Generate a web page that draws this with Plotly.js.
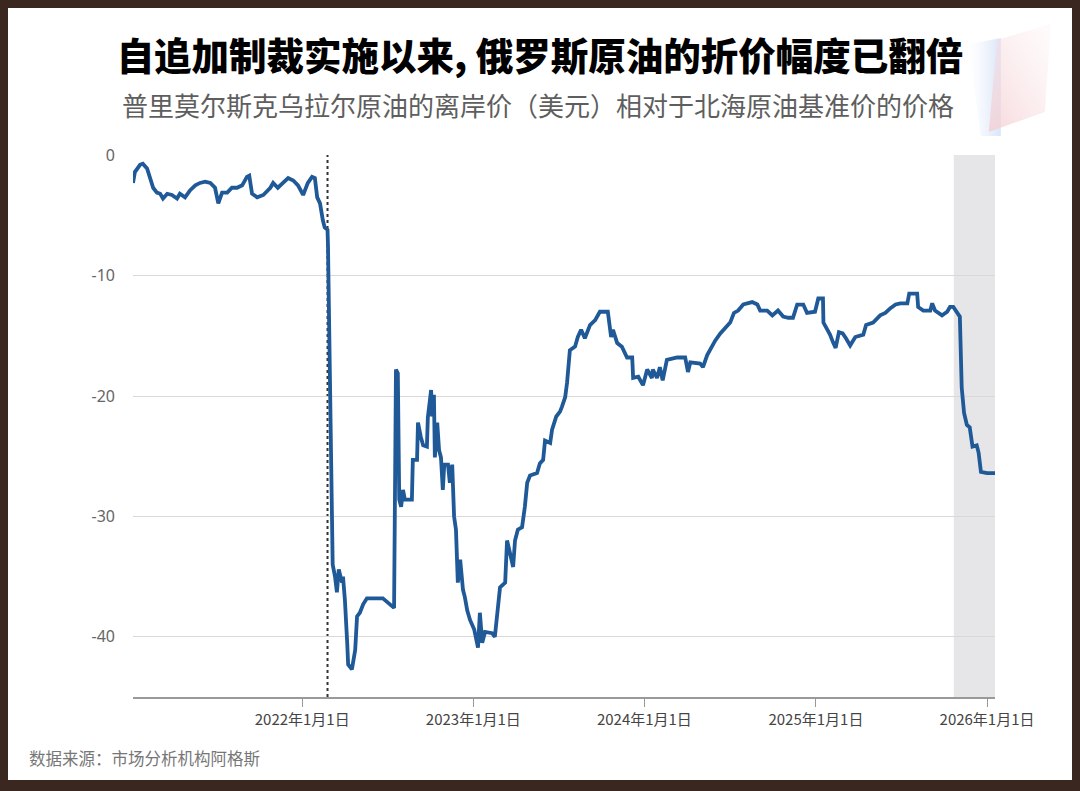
<!DOCTYPE html>
<html>
<head>
<meta charset="utf-8">
<script src="https://cdn.plot.ly/plotly-3.0.1.min.js"></script>
<style>
html,body{margin:0;padding:0;background:#3a2820;width:1080px;height:791px;overflow:hidden;}
#frame{position:absolute;left:8px;top:8px;width:1064px;height:772px;background:#fff;}
#chart{width:1064px;height:772px;}
</style>
</head>
<body>
<div id="frame"><div id="chart"></div></div>
<script>
const titleText = "自追加制裁实施以来, 俄罗斯原油的折价幅度已翻倍";
const subtitleText = "普里莫尔斯克乌拉尔原油的离岸价（美元）相对于北海原油基准价的价格";
const sourceText = "数据来源：市场分析机构阿格斯";

const tickDates = ["2022-01-01","2023-01-01","2024-01-01","2025-01-01","2026-01-01"];
const tickLabels = ["2022年1月1日","2023年1月1日","2024年1月1日","2025年1月1日","2026年1月1日"];
const yTicks = [0,-10,-20,-30,-40];
const yTickLabels = ["0","-10","-20","-30","-40"];

const invasionDate = "2022-02-24";
const sanctionsStart = "2025-10-22";
const xStart = "2021-01-05";
const xEnd = "2026-01-18";

const dates = [
"2021-01-05","2021-01-09","2021-01-20","2021-01-26","2021-02-04","2021-02-10","2021-02-17","2021-02-25",
"2021-03-04","2021-03-10","2021-03-19","2021-03-29","2021-04-09","2021-04-15","2021-04-26","2021-05-07",
"2021-05-18","2021-05-28","2021-06-08","2021-06-19","2021-06-29","2021-07-06","2021-07-14","2021-07-25",
"2021-08-04","2021-08-15","2021-08-26","2021-09-05","2021-09-10","2021-09-16","2021-09-27","2021-10-10",
"2021-10-25","2021-10-31","2021-11-10","2021-11-21","2021-12-02","2021-12-13","2021-12-23","2022-01-03",
"2022-01-13","2022-01-22","2022-01-28","2022-02-02","2022-02-08","2022-02-14","2022-02-18","2022-02-24",
"2022-02-25","2022-02-28","2022-03-03","2022-03-07","2022-03-12","2022-03-16","2022-03-20","2022-03-27",
"2022-03-29","2022-04-02","2022-04-07","2022-04-09","2022-04-17","2022-04-19","2022-04-24","2022-04-28",
"2022-05-04","2022-05-11","2022-05-19","2022-06-22","2022-07-01","2022-07-07","2022-07-16","2022-07-20",
"2022-07-24","2022-07-27","2022-07-31","2022-08-04","2022-08-08","2022-08-23","2022-08-25","2022-09-03",
"2022-09-05","2022-09-11","2022-09-16","2022-09-24","2022-09-26","2022-10-03","2022-10-05","2022-10-09",
"2022-10-11","2022-10-16","2022-10-20","2022-10-24","2022-10-28","2022-10-31","2022-11-08","2022-11-12",
"2022-11-17","2022-11-21","2022-11-25","2022-11-29","2022-12-04","2022-12-10","2022-12-14","2022-12-19",
"2022-12-25","2023-01-03","2023-01-11","2023-01-15","2023-01-20","2023-01-26","2023-02-10","2023-02-16",
"2023-02-21","2023-02-23","2023-02-27","2023-03-10","2023-03-14","2023-03-20","2023-03-27","2023-03-31",
"2023-04-06","2023-04-15","2023-04-21","2023-04-26","2023-05-02","2023-05-17","2023-05-23","2023-05-30",
"2023-06-03","2023-06-14","2023-06-18","2023-06-27","2023-07-05","2023-07-09","2023-07-16","2023-07-20",
"2023-07-26","2023-08-06","2023-08-12","2023-08-19","2023-08-27","2023-09-07","2023-09-18","2023-09-28",
"2023-10-15","2023-10-22","2023-10-26","2023-11-04","2023-11-14","2023-11-25","2023-12-06","2023-12-08",
"2023-12-19","2023-12-29","2024-01-07","2024-01-17","2024-01-19","2024-01-28","2024-02-03","2024-02-09",
"2024-02-18","2024-03-11","2024-03-28","2024-04-03","2024-04-08","2024-04-29","2024-05-05","2024-05-14",
"2024-05-24","2024-05-31","2024-06-11","2024-06-21","2024-07-02","2024-07-10","2024-07-19","2024-07-30",
"2024-08-18","2024-08-29","2024-09-04","2024-09-19","2024-09-30","2024-10-12","2024-10-23","2024-11-03",
"2024-11-13","2024-11-22","2024-12-05","2024-12-13","2024-12-30","2025-01-06","2025-01-16","2025-01-17",
"2025-01-25","2025-01-31","2025-02-06","2025-02-12","2025-02-19","2025-02-27","2025-03-06","2025-03-15",
"2025-03-26","2025-04-12","2025-04-18","2025-05-03","2025-05-18","2025-05-29","2025-06-09","2025-06-20",
"2025-06-30","2025-07-15","2025-07-19","2025-08-05","2025-08-07","2025-08-18","2025-09-02","2025-09-06",
"2025-09-12","2025-09-27","2025-10-08","2025-10-14","2025-10-21","2025-10-29","2025-11-04","2025-11-08",
"2025-11-13","2025-11-19","2025-11-25","2025-12-01","2025-12-10","2025-12-14","2025-12-19","2026-01-01",
"2026-01-18"
];
const discount = [
-2.3,-1.4,-0.8,-0.7,-1.1,-1.8,-2.7,-3.1,
-3.2,-3.6,-3.2,-3.3,-3.6,-3.2,-3.5,-2.9,
-2.5,-2.3,-2.2,-2.3,-2.7,-4.0,-3.1,-3.1,
-2.7,-2.7,-2.5,-1.8,-1.7,-3.2,-3.5,-3.3,
-2.7,-2.3,-2.7,-2.3,-1.9,-2.1,-2.5,-3.3,
-2.3,-1.8,-1.9,-3.5,-4.0,-5.4,-6.0,-6.2,
-7.5,-15.5,-26,-34,-35.0,-36.3,-34.4,-35.5,
-35.0,-36.9,-40.5,-42.3,-42.7,-42.2,-41.1,-38.3,
-38.0,-37.3,-36.8,-36.8,-37.1,-37.3,-37.6,-17.8,
-18.1,-28.6,-29.2,-27.8,-28.6,-28.6,-25.3,-25.3,
-22.2,-23.4,-24.1,-24.2,-21.8,-19.5,-21.7,-19.9,
-25.1,-22.2,-24.5,-25.1,-27.8,-25.7,-25.7,-27.2,
-25.7,-30.0,-31.1,-35.5,-33.6,-36.1,-36.7,-37.8,
-38.6,-39.4,-40.9,-38.0,-40.5,-39.6,-39.7,-40.0,
-38.0,-36.9,-35.9,-35.5,-32.0,-33.0,-34.2,-32.0,
-31.1,-30.9,-29.2,-27.2,-26.6,-26.4,-25.6,-25.3,
-23.7,-23.9,-22.8,-21.7,-21.3,-20.9,-20.1,-18.9,
-16.2,-15.9,-15.1,-14.5,-15.2,-14.1,-13.7,-13.0,
-13.0,-15.1,-14.5,-15.6,-15.9,-16.8,-16.8,-18.5,
-18.4,-19.1,-17.8,-18.5,-17.8,-18.5,-17.6,-18.7,
-17.0,-16.8,-16.8,-18.0,-17.2,-17.3,-17.6,-16.6,
-15.9,-15.4,-14.8,-14.4,-13.9,-13.1,-12.9,-12.4,
-12.2,-12.4,-12.9,-12.9,-13.3,-12.9,-13.4,-13.5,
-13.5,-12.4,-12.4,-13.1,-13.0,-11.9,-11.9,-13.9,
-14.4,-14.9,-15.5,-16.0,-14.7,-14.8,-15.2,-15.8,
-15.1,-14.9,-14.1,-13.9,-13.3,-13.1,-12.7,-12.4,
-12.3,-12.3,-11.5,-11.5,-12.6,-12.9,-12.9,-12.3,
-12.9,-13.3,-13.0,-12.6,-12.6,-13.0,-13.4,-19.3,
-21.4,-22.4,-22.6,-24.2,-24.1,-24.7,-26.3,-26.4,
-26.4
];

const decoSvg = "<svg xmlns='http://www.w3.org/2000/svg' width='90' height='118' viewBox='0 0 90 118'>" +
"<defs><linearGradient id='b' x1='0' y1='0' x2='1' y2='0'><stop offset='0' stop-color='#e4ecfb' stop-opacity='0'/><stop offset='1' stop-color='#cddcf6' stop-opacity='0.75'/></linearGradient>" +
"<linearGradient id='p' x1='0' y1='1' x2='1' y2='0'><stop offset='0' stop-color='#f4cdd1' stop-opacity='0.8'/><stop offset='1' stop-color='#fbe8ea' stop-opacity='0.15'/></linearGradient></defs>" +
"<polygon points='4,24 36,18 36,116 16,116' fill='url(#b)'/>" +
"<polygon points='32,20 86,4 80,92 24,112' fill='url(#p)'/>" +
"</svg>";
const decoSrc = "data:image/svg+xml;charset=utf-8," + encodeURIComponent(decoSvg);

const cjk = "'Noto Sans CJK SC', 'Noto Sans', sans-serif";

const trace = {
  x: dates, y: discount, type: "scatter", mode: "lines",
  line: {color: "#1f5997", width: 3.8},
  hoverinfo: "x+y"
};

const layout = {
  width: 1064, height: 772,
  margin: {l: 125, r: 77, t: 147, b: 83},
  paper_bgcolor: "#ffffff", plot_bgcolor: "#ffffff",
  showlegend: false,
  font: {family: cjk, color: "#555"},
  title: {
    text: titleText, xref: "container", yref: "container",
    x: 0.5, y: 0.9365, xanchor: "center", yanchor: "middle",
    font: {family: cjk, size: 37.5, color: "#000", weight: 900}
  },
  xaxis: {
    type: "date", range: [xStart, xEnd],
    tickmode: "array", tickvals: tickDates, ticktext: tickLabels,
    ticks: "outside", ticklen: 8, tickwidth: 1, tickcolor: "#999",
    showline: true, linecolor: "#999", linewidth: 1.5,
    showgrid: false, zeroline: false,
    tickfont: {family: cjk, size: 15, color: "#444"}
  },
  yaxis: {
    range: [-45, 0.02], tickmode: "array", tickvals: yTicks, ticktext: yTickLabels,
    showgrid: true, gridcolor: "#d9d9d9", gridwidth: 1.2,
    zeroline: false, showline: false, ticks: "",
    ticklabelstandoff: 17,
    tickfont: {family: "'Noto Sans', sans-serif", size: 16, color: "#666"}
  },
  shapes: [
    {type: "rect", xref: "x", yref: "paper", x0: sanctionsStart, x1: xEnd, y0: 0, y1: 1,
     fillcolor: "#e6e6e8", line: {width: 0}, layer: "below"},
    {type: "line", xref: "x", yref: "paper", x0: invasionDate, x1: invasionDate, y0: 0, y1: 1,
     line: {color: "#333", width: 2, dash: "dot"}, layer: "between"}
  ],
  annotations: [
    {text: subtitleText, xref: "paper", yref: "paper", x: 0.4704, y: 1.0923,
     xanchor: "center", yanchor: "middle", showarrow: false,
     font: {family: cjk, size: 26, color: "#5e5e5e"}},
    {text: sourceText, xref: "paper", yref: "paper", x: -0.123, y: -0.1125,
     xanchor: "left", yanchor: "middle", showarrow: false,
     font: {family: cjk, size: 16.5, color: "#777"}}
  ],
  images: [
    {source: decoSrc, xref: "paper", yref: "paper", x: 0.965, y: 1.249,
     sizex: 0.1044, sizey: 0.2177, sizing: "stretch", xanchor: "left", yanchor: "top", layer: "below"}
  ]
};

Plotly.newPlot("chart", [trace], layout, {displayModeBar: false, responsive: false});
</script>
</body>
</html>
